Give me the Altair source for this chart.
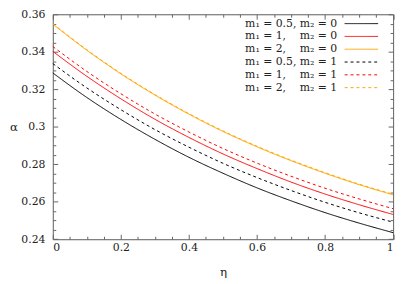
import altair as alt
import pandas as pd

eta = [0.0, 0.1, 0.2, 0.3, 0.4, 0.5, 0.6, 0.7, 0.8, 0.9, 1.0]

a_m05_0 = [0.3287, 0.3156, 0.3039, 0.2933, 0.2837, 0.2752, 0.2674, 0.2605, 0.2542, 0.2486, 0.2435]
a_m1_0 = [0.3402, 0.3269, 0.3149, 0.3040, 0.2943, 0.2855, 0.2777, 0.2705, 0.2641, 0.2584, 0.2532]
a_m2_0 = [0.3547, 0.3408, 0.3282, 0.3169, 0.3067, 0.2975, 0.2893, 0.2819, 0.2752, 0.2691, 0.2637]
a_m05_1 = [0.3337, 0.3207, 0.3091, 0.2985, 0.2891, 0.2805, 0.2729, 0.2660, 0.2597, 0.2541, 0.2491]
a_m1_1 = [0.3428, 0.3295, 0.3176, 0.3068, 0.2972, 0.2884, 0.2806, 0.2736, 0.2672, 0.2615, 0.2563]
a_m2_1 = [0.3550, 0.3411, 0.3285, 0.3172, 0.3070, 0.2978, 0.2896, 0.2822, 0.2755, 0.2694, 0.2640]

NB = "\u00a0"
labels = [
    "m₁ = 0.5, m₂ = 0",
    "m₁ = 1," + NB * 4 + "m₂ = 0",
    "m₁ = 2," + NB * 4 + "m₂ = 0",
    "m₁ = 0.5, m₂ = 1",
    "m₁ = 1," + NB * 4 + "m₂ = 1",
    "m₁ = 2," + NB * 4 + "m₂ = 1",
]
series_values = [a_m05_0, a_m1_0, a_m2_0, a_m05_1, a_m1_1, a_m2_1]
colors = ["#000000", "#ff0000", "#ffa500", "#000000", "#ff0000", "#ffa500"]
dashes = [[1, 0], [1, 0], [1, 0], [3, 3], [3, 3], [3, 3]]

x_major = [0, 0.2, 0.4, 0.6, 0.8, 1.0]
y_major = [0.24, 0.26, 0.28, 0.30, 0.32, 0.34, 0.36]
x_all = [round(i * 0.05, 3) for i in range(21)]
y_all = [round(0.24 + i * 0.005, 3) for i in range(25)]

rows = []
for lab, vals in zip(labels, series_values):
    for e, v in zip(eta, vals):
        rows.append({"eta": e, "alpha": v, "series": lab})
df = pd.DataFrame(rows)

W, H = 345.5, 228.4
FONT = "DejaVu Serif"
AX = "#666666"
TXT = "#222222"

xs = alt.Scale(domain=[0, 1], nice=False, zero=False)
ys = alt.Scale(domain=[0.24, 0.36], nice=False, zero=False)

xtick = {"condition": {"test": "round(datum.value*20) % 4 == 0", "value": 5}, "value": 3}
ytick = {"condition": {"test": "round(datum.value*200) % 4 == 0", "value": 5}, "value": 3}

legend = alt.Legend(
    title=None, orient="none", legendX=306.8, legendY=3, padding=0,
    symbolType="M-3,0L3,0", symbolSize=128, symbolStrokeWidth=1,
    labelAlign="right", labelOffset=alt.ExprRef("-31"), labelFont=FONT, labelFontSize=11,
    labelColor=TXT, rowPadding=1, labelLimit=300,
)

color = alt.Color("series:N", scale=alt.Scale(domain=labels, range=colors), legend=legend)
dash = alt.StrokeDash("series:N", scale=alt.Scale(domain=labels, range=dashes), legend=legend)

base = alt.Chart(df)

lines = base.mark_line(strokeWidth=1, interpolate="monotone").encode(
    x=alt.X("eta:Q", scale=xs, axis=alt.Axis(
        orient="bottom", values=x_major, ticks=False, domain=True, domainColor=AX,
        labelFont=FONT, labelFontSize=11, labelColor=TXT, labelPadding=2, format="~g",
        grid=False, title="η", titleFont=FONT, titleFontSize=12, titleFontWeight="normal",
        titleColor=TXT, titleY=33, titleBaseline="middle")),
    y=alt.Y("alpha:Q", scale=ys, axis=alt.Axis(
        orient="left", values=y_major, ticks=False, domain=True, domainColor=AX,
        labelFont=FONT, labelFontSize=11, labelColor=TXT, labelPadding=8, format="~g",
        grid=False, title="α", titleFont=FONT, titleFontSize=12, titleFontWeight="normal",
        titleColor=TXT, titleX=-40, titleY=H / 2, titleBaseline="middle", titleAngle=0)),
    color=color,
    strokeDash=dash,
    detail="series:N",
)

ticks_a = base.mark_line(opacity=0).encode(
    x=alt.X("eta:Q", scale=xs, axis=alt.Axis(
        orient="top", offset=alt.ExprRef(str(-H)), values=x_all, labels=False, domain=False,
        tickColor=AX, tickSize=xtick, title=None, grid=False)),
    y=alt.Y("alpha:Q", scale=ys, axis=alt.Axis(
        orient="right", offset=alt.ExprRef(str(-W)), values=y_all, labels=False, domain=False,
        tickColor=AX, tickSize=ytick, title=None, grid=False)),
    detail="series:N",
)

ticks_b = base.mark_line(opacity=0).encode(
    x=alt.X("eta:Q", scale=xs, axis=alt.Axis(
        orient="bottom", offset=alt.ExprRef(str(-H)), values=x_all, labels=False, domain=True,
        domainColor=AX, tickColor=AX, tickSize=xtick, title=None, grid=False)),
    y=alt.Y("alpha:Q", scale=ys, axis=alt.Axis(
        orient="left", offset=alt.ExprRef(str(-W)), values=y_all, labels=False, domain=True,
        domainColor=AX, tickColor=AX, tickSize=ytick, title=None, grid=False)),
    detail="series:N",
)

chart = alt.layer(lines, ticks_a, ticks_b).resolve_axis(
    x="independent", y="independent"
).properties(
    width=W, height=H,
    autosize=alt.AutoSizeParams(type="none"),
    padding={"left": 45.5, "top": 4.3, "right": 6, "bottom": 37},
).configure_view(stroke=None).configure(background="white", font=FONT)

chart.save("out.html", embed_options={"renderer": "svg", "actions": False})
